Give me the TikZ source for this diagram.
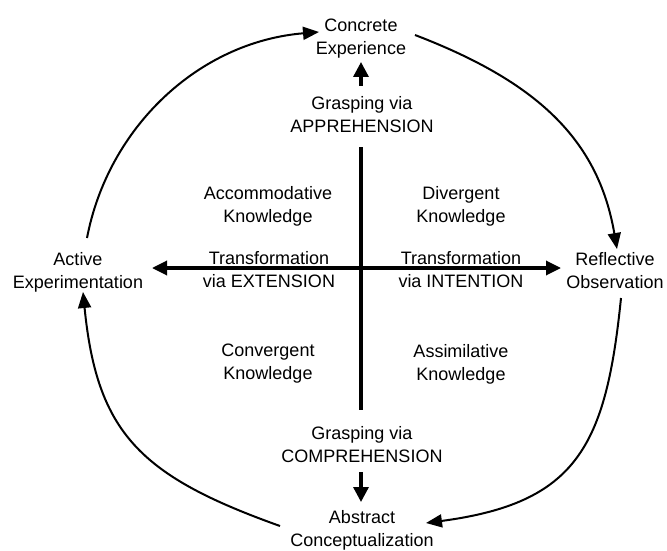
\documentclass[tikz,border=0pt]{standalone}
\usepackage{fontspec}
\setmainfont{Liberation Sans}
\usetikzlibrary{arrows.meta}
\begin{document}
\begin{tikzpicture}[x=1pt,y=-1pt,
  lbl/.style={align=center,inner sep=0pt,font=\fontsize{18}{23}\selectfont},
  thickline/.style={line width=3.3pt},
  bigarrow/.style={thickline,-{Triangle[length=15pt,width=15pt]}},
  cyc/.style={line width=2pt,-{Triangle[length=16pt,width=13pt]}}]
\path[use as bounding box,fill=white] (0,0) rectangle (667,551);
% text nodes
\node[lbl] (CE) at (361,39) {Concrete\\Experience};
\node[lbl] (GA) at (362,115) {Grasping via\\APPREHENSION};
\node[lbl] (AK) at (268,206) {Accommodative\\Knowledge};
\node[lbl] (DK) at (461,206) {Divergent\\Knowledge};
\node[lbl] (TE) at (269,270) {Transformation\\via EXTENSION};
\node[lbl] (TI) at (461,270) {Transformation\\via INTENTION};
\node[lbl] (AE) at (78,272) {Active\\Experimentation};
\node[lbl] (RO) at (615,271) {Reflective\\Observation};
\node[lbl] (CK) at (268,364) {Convergent\\Knowledge};
\node[lbl] (AS) at (461,364) {Assimilative\\Knowledge};
\node[lbl] (GC) at (362,445) {Grasping via\\COMPREHENSION};
\node[lbl] (AC) at (362,530) {Abstract\\Conceptualization};
% connector end points
\coordinate (upS) at (361,86);
\coordinate (upE) at (361,62);
\coordinate (dnS) at (361,472);
\coordinate (dnE) at (361,502);
\coordinate (vTop) at (361,147);
\coordinate (vBot) at (361,410);
\coordinate (hL) at (152,268);
\coordinate (hR) at (561,268);
\coordinate (aeTop) at (87,238);
\coordinate (ceL) at (319,32);
\coordinate (ceR) at (415,35);
\coordinate (roTop) at (617,249);
\coordinate (roBot) at (621,298);
\coordinate (acR) at (426,523);
\coordinate (acL) at (280,526);
\coordinate (aeBot) at (83,292);
% axes
\draw[thickline] (vTop) -- (vBot);
\draw[thickline,{Triangle[length=15pt,width=14pt]}-{Triangle[length=15pt,width=14pt]}] (hL) -- (hR);
\draw[bigarrow] (upS) -- (upE);
\draw[bigarrow] (dnS) -- (dnE);
% cycle
\draw[cyc] (aeTop) .. controls (108,128) and (198,42) .. (ceL);
\draw[cyc] (ceR) .. controls (535,81) and (598,138) .. (roTop);
\draw[cyc] (roBot) .. controls (606,446) and (577,503) .. (acR);
\draw[cyc] (acL) .. controls (140,476) and (97,433) .. (aeBot);
\end{tikzpicture}
\end{document}
